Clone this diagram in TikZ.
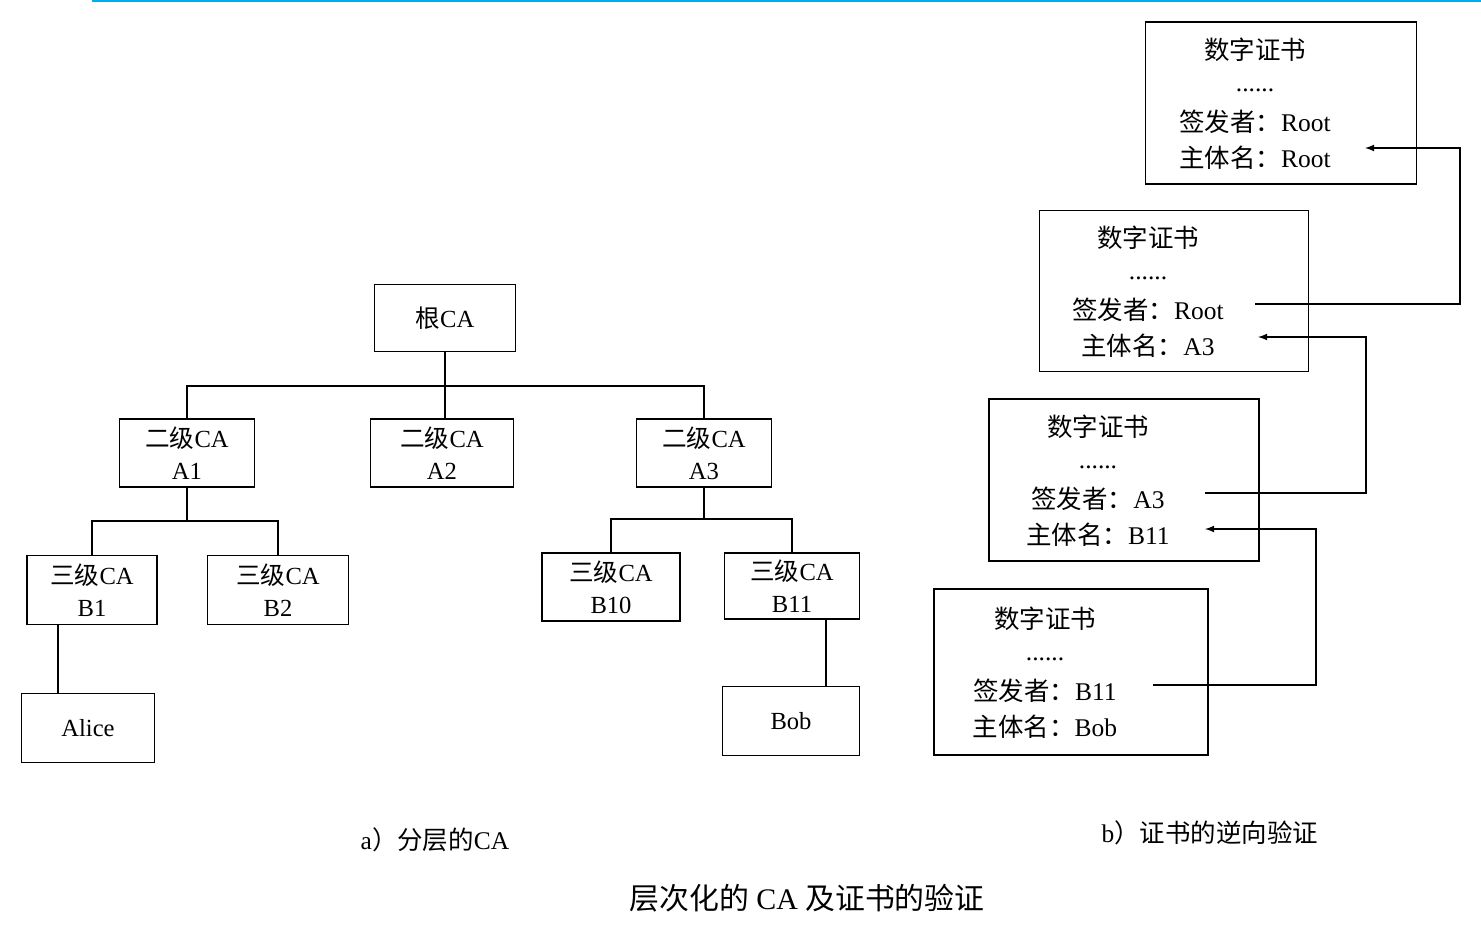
\documentclass[tikz,border=0pt]{standalone}
\usepackage{fontspec}
\setmainfont{Liberation Serif}
\newfontfamily\cjk{Noto Sans CJK SC}
\newcommand{\zh}[1]{{\cjk #1}}
\usetikzlibrary{arrows}

\begin{document}
\begin{tikzpicture}[x=0.02cm, y=-0.02cm, thick, >= latex,
  ca/.style={draw, minimum width=#1*0.02cm, font=\fontsize{14}{18}\selectfont, align=center, inner sep=1pt},
  ca/.default=135,
  txt/.style={font=\fontsize{14.5}{16}\selectfont}]

\useasboundingbox (0,0) rectangle (1481,951);
\draw[cyan, line width=1.2pt] (92,0.6) -- (1481,0.6);

% hierarchy
\node[ca=141, minimum height=1.34cm] (root) at (445,318) {\zh{根}CA};
\node[ca, minimum height=1.36cm] (A1) at (187,453) {\zh{二级}CA\\A1};
\node[ca=143, minimum height=1.36cm] (A2) at (442,453) {\zh{二级}CA\\A2};
\node[ca, minimum height=1.36cm] (A3) at (704,453) {\zh{二级}CA\\A3};
\node[ca=130, minimum height=1.38cm] (B1) at (92,590) {\zh{三级}CA\\B1};
\node[ca=141, minimum height=1.38cm] (B2) at (278,590) {\zh{三级}CA\\B2};
\node[ca=138, minimum height=1.36cm] (B10) at (611,587) {\zh{三级}CA\\B10};
\node[ca, minimum height=1.32cm] (B11) at (792,586) {\zh{三级}CA\\B11};
\node[ca=133, minimum height=1.38cm] (alice) at (88,728) {Alice};
\node[ca=137, minimum height=1.38cm] (bob) at (791,721) {Bob};

\coordinate (busA) at (445,386);
\draw (root) -- (busA);
\draw (A1.north) |- (busA) -| (A3.north);
\draw (busA) -- (busA |- A2.north);
\coordinate (busB) at (187,521);
\draw (A1) -- (busB);
\draw (B1.north) |- (busB) -| (B2.north);
\coordinate (busC) at (704,519);
\draw (A3) -- (busC);
\draw (B10.north) |- (busC) -| (B11.north);
\coordinate (al) at (58,625);
\draw (al) -- (al |- alice.north);
\coordinate (bo) at (826,619);
\draw (bo) -- (bo |- bob.north);

% certificates
\foreach \n/\x/\y/\w/\h/\is/\sub in {
  c1/1255/103/271/162/Root/Root,
  c2/1148/291/269/161/Root/A3,
  c3/1098/480/270/162/A3/B11,
  c4/1045/672/274/166/B11/Bob}{
  \node[draw, minimum width=\w*0.02cm, minimum height=\h*0.02cm] (\n) at (\x+26,\y) {};
  \node[txt] (\n t) at (\x,\y-53) {\zh{数字证书}};
  \node[txt] (\n d) at (\x,\y-13) {......};
  \node[txt] (\n i) at (\x,\y+19) {\zh{签发者：}\is};
  \node[txt] (\n s) at (\x,\y+55) {\zh{主体名：}\sub};
}

\coordinate (o2) at (1255,304);
\coordinate (e1) at (1365,148);
\draw[->] (o2) -- (1460,304) |- (e1);
\coordinate (o3) at (1205,493);
\coordinate (e2) at (1258,337);
\draw[->] (o3) -- (1366,493) |- (e2);
\coordinate (o4) at (1153,685);
\coordinate (e3) at (1205,529);
\draw[->] (o4) -- (1316,685) |- (e3);

% captions
\node[txt] (capa) at (435,840) {a\zh{）分层的}CA};
\node[txt] (capb) at (1210,833) {b\zh{）证书的逆向验证}};
\node[font=\fontsize{17}{20}\selectfont] (title) at (807,898) {\zh{层次化的} CA \zh{及证书的验证}};
\end{tikzpicture}
\end{document}
